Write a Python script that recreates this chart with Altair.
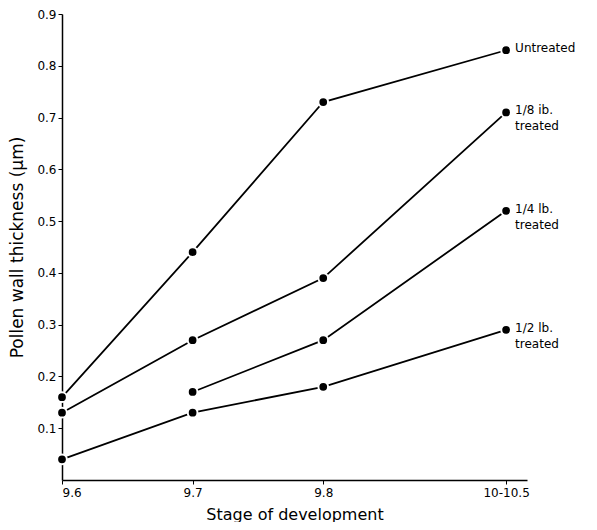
import altair as alt
import pandas as pd

# Stage labels and their positions along the x axis
stages = ["9.6", "9.7", "9.8", "10-10.5"]
stage_pos = [9.6, 9.7, 9.8, 9.94]

series = ["Untreated", "1/8 lb. treated", "1/4 lb. treated", "1/2 lb. treated"]
untreated = [0.16, 0.44, 0.73, 0.83]
eighth_lb = [0.13, 0.27, 0.39, 0.71]
quarter_lb = [None, 0.17, 0.27, 0.52]
half_lb = [0.04, 0.13, 0.18, 0.29]

end_labels = ["Untreated", "1/8 ib.\ntreated", "1/4 lb.\ntreated", "1/2 lb.\ntreated"]

y_ticks = [0.1, 0.2, 0.3, 0.4, 0.5, 0.6, 0.7, 0.8, 0.9]

rows = []
for name, vals in zip(series, [untreated, eighth_lb, quarter_lb, half_lb]):
    for st, p, v in zip(stages, stage_pos, vals):
        if v is not None:
            rows.append({"series": name, "stage": st, "pos": p, "value": v})
df = pd.DataFrame(rows)

lab_rows = []
for name, vals, lab in zip(series, [untreated, eighth_lb, quarter_lb, half_lb], end_labels):
    lab_rows.append({"series": name, "pos": stage_pos[-1], "value": vals[-1], "label": lab})
lab_df = pd.DataFrame(lab_rows)

label_expr = "".join(
    f"abs(datum.value - {p}) < 0.001 ? '{s}' : " for p, s in zip(stage_pos, stages)
) + "''"

FONT = "DejaVu Sans"

x_enc = alt.X(
    "pos:Q",
    scale=alt.Scale(domain=[9.6, 9.956], nice=False, zero=False),
    axis=alt.Axis(
        values=stage_pos,
        labelExpr=label_expr,
        title="Stage of development",
        grid=False,
        tickSize=4,
        labelFontSize=12,
        labelPadding=3,
        titleFontSize=16,
        titleFontWeight="normal",
        titlePadding=8,
        labelFont=FONT,
        titleFont=FONT,
        domainColor="black",
        domainWidth=1.5,
        tickColor="black",
        labelColor="black",
        titleColor="black",
    ),
)
y_enc = alt.Y(
    "value:Q",
    scale=alt.Scale(domain=[0, 0.9], nice=False),
    axis=alt.Axis(
        values=y_ticks,
        format=".1f",
        title="Pollen wall thickness (μm)",
        grid=False,
        tickSize=4,
        labelFontSize=12,
        labelPadding=2,
        titleFontSize=17,
        titleFontWeight="normal",
        titlePadding=10,
        labelFont=FONT,
        titleFont=FONT,
        domainColor="black",
        domainWidth=1.5,
        tickColor="black",
        labelColor="black",
        titleColor="black",
    ),
)

lines = alt.Chart(df).mark_line(color="black", strokeWidth=1.8).encode(
    x=x_enc, y=y_enc, detail="series:N"
)
points = alt.Chart(df).mark_point(
    filled=True, fill="black", stroke="white", strokeWidth=2, size=95, opacity=1
).encode(x="pos:Q", y="value:Q")
texts = alt.Chart(lab_df).mark_text(
    align="left", baseline="top", dx=9, dy=-7, fontSize=12, font=FONT,
    color="black", lineBreak="\n", lineHeight=16
).encode(x="pos:Q", y="value:Q", text="label:N")

chart = (
    alt.layer(lines, points, texts)
    .properties(width=465, height=466, padding={"left": 0, "top": 0, "right": 0, "bottom": 0})
    .configure(background="white")
    .configure_view(strokeWidth=0, stroke="transparent")
)

chart.save("out.html", embed_options={"renderer": "svg", "actions": False})
